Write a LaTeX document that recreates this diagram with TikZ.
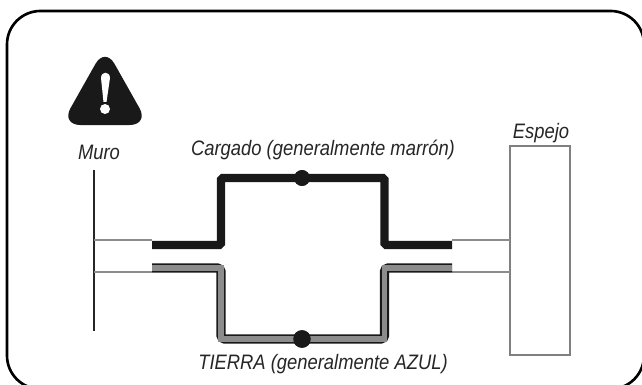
\documentclass[tikz,border=0pt]{standalone}
\usepackage{fontspec}
\setmainfont[FakeStretch=0.88]{Liberation Sans}
\tikzset{
  label text/.style={font=\itshape\fontsize{11.9}{14}\selectfont, text=black!85, inner sep=0pt},
  thin wire/.style={draw=black!45, line width=0.7pt},
  joint/.style={circle, fill=black!90, inner sep=0pt, minimum size=9pt},
}
\begin{document}
\begin{tikzpicture}[x=0.02cm, y=-0.02cm]
\useasboundingbox (0,0) rectangle (642,385);
\fill[white] (0,0) rectangle (642,385);
\clip (0,0) rectangle (642,385);
\draw[line width=1.5pt, rounded corners=19pt] (7,11) rectangle (644,389);
% warning sign
\fill[black!90, rounded corners=11pt] (105,47) -- (61,125) -- (149,125) -- cycle;
\fill[white] (101,78) .. controls (101,71) and (110,71) .. (110,78) -- (106.5,102) -- (103.5,102) -- cycle;
\fill[white] (105,109) circle (5);
% wall and mirror
\node (Wall) at (94,250.5) [minimum height=3.22cm, minimum width=0pt, inner sep=0pt, draw=black!85, line width=1pt] {};
\node (Mirror) at (540,250.5) [draw=black!50, line width=0.8pt, minimum width=1.2cm, minimum height=4.18cm, inner sep=0pt] {};
\coordinate (WallA) at (94,240);
\coordinate (WallB) at (94,272);
\coordinate (MirrorA) at (510,240);
\coordinate (MirrorB) at (510,272);
\coordinate (LiveL) at (152,245);
\coordinate (LiveR) at (452,245);
\coordinate (EarthL) at (152,268);
\coordinate (EarthR) at (452,268);
\node[joint] (LiveJ) at (302,178) {};
\node[joint, minimum size=10pt] (EarthJ) at (302,339) {};
\draw[thin wire] (WallA) -- (LiveL |- WallA);
\draw[thin wire] (WallB) -- (EarthL |- WallB);
\draw[thin wire] (MirrorA) -- (LiveR |- MirrorA);
\draw[thin wire] (MirrorB) -- (EarthR |- MirrorB);
% live wire
\draw[line width=4.8pt, black!90, rounded corners=1pt] (LiveL) -- (221,245) -- (221,178) -- (LiveJ.center) -- (384.5,178) -- (384.5,245) -- (LiveR);
% earth wire
\draw[line width=5.2pt, black!90, rounded corners=2pt] (EarthL) -- (221,268) -- (221,339) -- (EarthJ.center) -- (384.5,339) -- (384.5,268) -- (EarthR);
\draw[line width=3pt, black!45] (EarthL) -- (221,268) -- (221,339) -- (EarthJ.center) -- (384.5,339) -- (384.5,268) -- (EarthR);
\node[joint] at (LiveJ) {};
\node[joint, minimum size=10pt] at (EarthJ) {};
% labels
\node[label text] (WallText) at (99,152) {Muro};
\node[label text] (LiveText) at (323,150) {Cargado (generalmente marrón)};
\node[label text] (MirrorText) at (541,133) {Espejo};
\node[label text] (EarthText) at (323,364) {TIERRA (generalmente AZUL)};
\end{tikzpicture}
\end{document}
